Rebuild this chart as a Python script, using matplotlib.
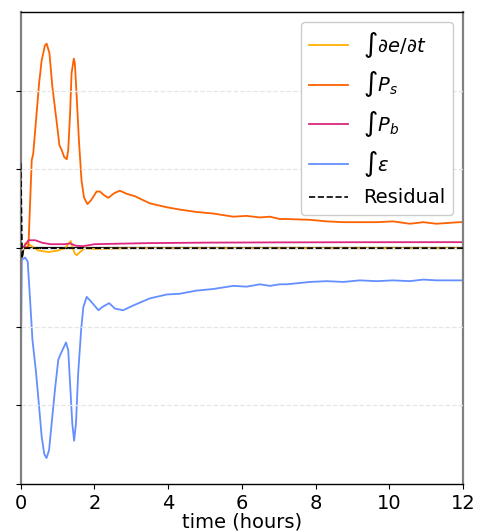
import matplotlib
matplotlib.use("Agg")
import matplotlib.pyplot as plt

# --- data ---
t_ps = [0.0, 0.21, 0.30, 0.34, 0.41, 0.50, 0.57, 0.66, 0.705, 0.78, 0.86, 0.98, 1.05, 1.11,
        1.18, 1.25, 1.29, 1.34, 1.38, 1.44, 1.47, 1.52, 1.58, 1.65, 1.72, 1.81, 1.91, 2.06,
        2.15, 2.27, 2.38, 2.54, 2.69, 2.88, 3.1, 3.5, 3.96, 4.32, 4.77, 5.22, 5.77, 6.13,
        6.49, 6.76, 7.03, 7.22, 7.85, 8.3, 8.75, 9.2, 9.66, 10.1, 10.56, 10.92, 11.28, 11.9, 12.0]
ps = [0.0, 0.02, 1.12, 1.20, 1.59, 2.10, 2.39, 2.58, 2.60, 2.48, 2.05, 1.59, 1.31, 1.25,
      1.16, 1.13, 1.25, 1.71, 2.22, 2.41, 2.35, 1.92, 1.37, 0.86, 0.64, 0.56, 0.61, 0.72,
      0.72, 0.67, 0.64, 0.70, 0.73, 0.69, 0.66, 0.57, 0.52, 0.49, 0.46, 0.44, 0.40, 0.41,
      0.39, 0.40, 0.37, 0.37, 0.36, 0.34, 0.33, 0.33, 0.33, 0.34, 0.31, 0.33, 0.31, 0.33, 0.33]

t_eps = [0.0, 0.03, 0.12, 0.19, 0.25, 0.32, 0.41, 0.50, 0.57, 0.64, 0.70, 0.77, 0.84, 0.93,
         1.02, 1.09, 1.16, 1.23, 1.29, 1.34, 1.40, 1.45, 1.50, 1.56, 1.64, 1.70, 1.79, 1.91,
         2.11, 2.21, 2.40, 2.56, 2.78, 3.05, 3.5, 3.96, 4.32, 4.77, 5.22, 5.77, 6.13, 6.49,
         6.76, 7.03, 7.22, 7.85, 8.3, 8.75, 9.2, 9.66, 10.1, 10.56, 10.92, 11.28, 11.9, 12.0]
eps = [-1.76, -0.15, -0.12, -0.17, -0.62, -1.17, -1.55, -2.02, -2.40, -2.62, -2.67, -2.57,
       -2.23, -1.80, -1.42, -1.34, -1.27, -1.20, -1.30, -1.72, -2.23, -2.45, -2.23, -1.59,
       -1.04, -0.75, -0.62, -0.68, -0.79, -0.75, -0.70, -0.77, -0.79, -0.73, -0.64, -0.59,
       -0.58, -0.54, -0.52, -0.48, -0.49, -0.46, -0.48, -0.46, -0.46, -0.43, -0.42, -0.43,
       -0.41, -0.42, -0.41, -0.42, -0.40, -0.41, -0.41, -0.41]

t_pb = [0.0, 0.06, 0.21, 0.40, 0.57, 0.80, 1.00, 1.20, 1.34, 1.50, 1.70, 2.0, 2.5, 3.5, 5.0, 7.0, 9.0, 12.0]
pb = [0.0, 0.0, 0.10, 0.10, 0.07, 0.05, 0.05, 0.05, 0.06, 0.03, 0.025, 0.05, 0.055, 0.064, 0.07, 0.073, 0.075, 0.076]

t_dedt = [0.0, 0.03, 0.12, 0.25, 0.48, 0.75, 1.02, 1.20, 1.36, 1.41, 1.47, 1.52, 1.61, 1.74, 2.0, 3.0, 12.0]
dedt = [0.0, -0.12, 0.06, 0.04, -0.03, -0.05, -0.03, 0.0, 0.09, 0.0, -0.07, -0.09, -0.05, 0.0, -0.01, 0.0, 0.0]

t_res = [0.0, 0.04, 0.08, 12.0]
res = [1.08, -0.13, 0.0, 0.0]

x_ticks = [0, 2, 4, 6, 8, 10, 12]
y_ticks = [-3, -2, -1, 0, 1, 2]

labels = [r'$\int \partial e/\partial t$', r'$\int P_s$', r'$\int P_b$', r'$\int \varepsilon$', 'Residual']
colors = ['#FFB000', '#FE6100', '#DC267F', '#648FFF', 'black']

fig = plt.figure(figsize=(4.81, 5.32), dpi=100)
ax = fig.add_axes([0.043, 0.0902, 0.9196, 0.8868])

ax.axhline(0, color='black', lw=1.6, zorder=1)
ax.plot(t_dedt, dedt, color=colors[0], lw=1.3, label=labels[0], zorder=2)
ax.plot(t_ps, ps, color=colors[1], lw=1.3, label=labels[1], zorder=2)
ax.plot(t_pb, pb, color=colors[2], lw=1.3, label=labels[2], zorder=2)
ax.plot(t_eps, eps, color=colors[3], lw=1.3, label=labels[3], zorder=2)
ax.plot(t_res, res, color=colors[4], lw=1.2, ls='--', label=labels[4], zorder=3)

ax.set_xlim(0, 12)
ax.set_ylim(-3, 3)
ax.set_xticks(x_ticks)
ax.set_yticks(y_ticks)
ax.set_yticklabels([])
ax.tick_params(axis='x', labelsize=14)
ax.set_xlabel('time (hours)', fontsize=14, labelpad=0)

ax.yaxis.grid(True, linestyle='--', color='#e6e6e6', lw=0.9)
ax.set_axisbelow(False)

for s in ['left', 'right']:
    ax.spines[s].set_color('#808080')
    ax.spines[s].set_linewidth(1.6)
for s in ['top', 'bottom']:
    ax.spines[s].set_color('black')
    ax.spines[s].set_linewidth(1.0)

ax.legend(loc='upper right', fontsize=14, framealpha=1.0)

fig.savefig('out.png', dpi=100)
